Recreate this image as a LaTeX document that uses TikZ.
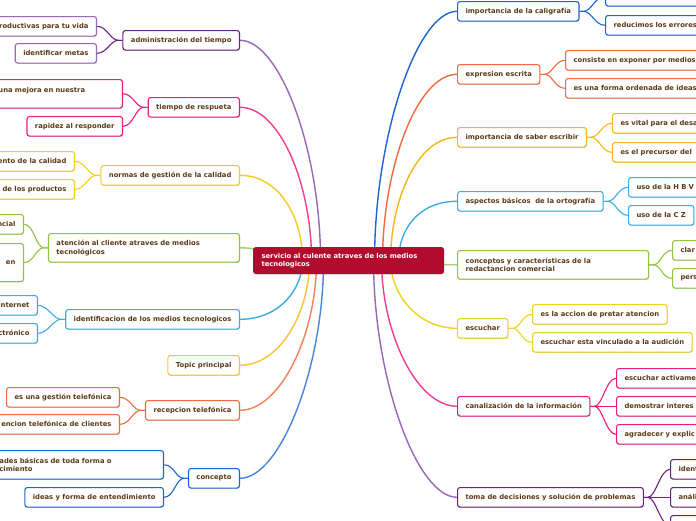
\documentclass[tikz,border=0pt]{standalone}
\usepackage{fontspec}
\newfontfamily\mapfont{DejaVu Sans}
\usetikzlibrary{backgrounds, shadows}

\definecolor{txtbrown}{HTML}{5C3A17}
\definecolor{rootred}{HTML}{B30B2D}
\definecolor{bpurple}{HTML}{6A2380}
\definecolor{bpurplel}{HTML}{9A66B6}
\definecolor{bpink}{HTML}{EC1C7F}
\definecolor{byellow}{HTML}{F2CF1F}
\definecolor{bgreen}{HTML}{8DC63F}
\definecolor{bsky}{HTML}{3AADE8}
\definecolor{bgold}{HTML}{FBC23A}
\definecolor{borange}{HTML}{F26A3B}
\definecolor{bblue}{HTML}{1C66D4}
\definecolor{bamber}{HTML}{F5B818}
\definecolor{blemon}{HTML}{EDD41A}

\tikzset{
  box/.style={draw=#1, fill=white, line width=1.1pt, rounded corners=2.5pt,
    text=txtbrown, font=\mapfont\bfseries\fontsize{6.8}{8.6}\selectfont,
    inner xsep=8pt, inner ysep=0pt, minimum height=19.5pt, align=left,
    drop shadow={shadow xshift=0.5pt, shadow yshift=-0.8pt, opacity=0.2, fill=black}},
  lbox/.style={box=#1, anchor=north east},
  rbox/.style={box=#1, anchor=north west},
  cut/.style={text width=150pt},
  twoline/.style={minimum height=28.5pt},
  trunk/.style={draw=#1, line width=1.4pt},
  twig/.style={draw=#1, line width=1.1pt},
}

\begin{document}
\begin{tikzpicture}[x=1pt, y=-1pt]
  \useasboundingbox (0,0) rectangle (696,520);

  % central topic
  \node[rbox=rootred, fill=rootred, text=white, text width=174pt, minimum height=26pt] (root) at (253,247) {servicio al culente atraves de los medios\\tecnologicos};

  % left branches
  \node[lbox=bpurple] (adm) at (240,30) {administración del tiempo};
  \node[lbox=bpink] (resp) at (240,97) {tiempo de respueta};
  \node[lbox=byellow] (norm) at (240,165) {normas de gestión de la calidad};
  \node[lbox=bgreen, twoline, text width=175pt] (aten) at (240,233) {atención al cliente atraves de medios\\tecnológicos};
  \node[lbox=bsky] (iden) at (240,309) {identificacion de los medios tecnologicos};
  \node[lbox=bgold] (topic) at (240,355) {Topic principal};
  \node[lbox=borange] (recp) at (240,400) {recepcion telefónica};
  \node[lbox=bblue] (conc) at (240,468) {concepto};

  \node[lbox=bpurplel] (admA) at (97,16) {productivas para tu vida};
  \node[lbox=bpurplel] (admB) at (97,43) {identificar metas};
  \node[lbox=bpink, twoline, text width=116pt] (respA) at (123,79) {una mejora en nuestra\\\mbox{}};
  \node[lbox=bpink] (respB) at (123,116) {rapidez al responder};
  \node[lbox=byellow] (normA) at (75,151) {ento de la calidad};
  \node[lbox=byellow] (normB) at (75,179) {de los productos};
  \node[lbox=bgreen] (atenA) at (24,214) {ncial};
  \node[lbox=bgreen, text width=40pt, align=right, minimum height=38pt] (atenB) at (24,243) {en};
  \node[lbox=bsky] (idenA) at (38,295) {Internet};
  \node[lbox=bsky] (idenB) at (38,323) {ctrónico};
  \node[lbox=borange] (recpA) at (120,387) {es una gestión telefónica};
  \node[lbox=borange] (recpB) at (120,414) {encion telefónica de clientes};
  \node[lbox=bblue, twoline, text width=156pt] (concA) at (164,450) {ades básicas de toda forma o\\cimiento};
  \node[lbox=bblue] (concB) at (164,487) {ideas y forma de entendimiento};

  % right branches
  \node[rbox=bblue] (cali) at (457,1) {importancia de la caligrafía};
  \node[rbox=borange] (expr) at (457,64) {expresion escrita};
  \node[rbox=bamber] (sabe) at (457,127) {importancia de saber escribir};
  \node[rbox=bsky] (aspe) at (457,191) {aspectos básicos\ \ de la ortografía};
  \node[rbox=bgreen, twoline, text width=175pt] (conce) at (457,250) {conceptos y características de la\\redactancion comercial};
  \node[rbox=blemon] (escu) at (457,318) {escuchar};
  \node[rbox=bpink] (cana) at (457,396) {canalización de la información};
  \node[rbox=bpurple] (toma) at (457,487) {toma de decisiones y solución de problemas};

  \node[rbox=bblue, cut] (caliA) at (605,-14) {};
  \node[rbox=bblue, cut] (caliB) at (605,15) {reducimos los errores};
  \node[rbox=borange, cut] (exprA) at (565,50) {consiste en exponer por medios};
  \node[rbox=borange, cut] (exprB) at (565,78) {es una forma ordenada de ideas};
  \node[rbox=bamber, cut] (sabeA) at (612,113) {es vital para el desa};
  \node[rbox=bamber, cut] (sabeB) at (612,142) {es el precursor del};
  \node[rbox=bsky, cut] (aspeA) at (628,177) {uso de la H B V};
  \node[rbox=bsky] (aspeB) at (628,205) {uso de la C Z};
  \node[rbox=bgreen, cut] (conceA) at (672,240) {clar};
  \node[rbox=bgreen, cut] (conceB) at (672,268) {pers};
  \node[rbox=blemon] (escuA) at (532,304) {es la accion de pretar atencion};
  \node[rbox=blemon] (escuB) at (532,332) {escuchar esta vinculado a la audición};
  \node[rbox=bpink, cut] (canaA) at (616,368) {escuchar activame};
  \node[rbox=bpink, cut] (canaB) at (616,396) {demostrar interes};
  \node[rbox=bpink, cut] (canaC) at (616,424) {agradecer y explic};
  \node[rbox=bpurple, cut] (tomaA) at (670,459) {ident};
  \node[rbox=bpurple, cut] (tomaB) at (670,487) {análi};
  \node[rbox=bpurple, cut] (tomaC) at (670,515) {};

  \begin{pgfonlayer}{background}
    \fill[white] (0,0) rectangle (696,520);
    % trunks
    \draw[trunk=bpurplel] (adm.east) .. controls +(40,0) and +(0,-110) .. ([xshift=-28pt]root.center);
    \draw[trunk=bpink!85!white] (resp.east) .. controls +(40,0) and +(0,-76) .. ([xshift=-37pt]root.center);
    \draw[trunk=byellow] (norm.east) .. controls +(40,0) and +(0,-42) .. ([xshift=-46pt]root.center);
    \draw[trunk=bgreen!80!white] (aten.east) .. controls +(30,0) and +(-20,0) .. ([xshift=-48pt]root.center);
    \draw[trunk=bsky] (iden.east) .. controls +(40,0) and +(0,28) .. ([xshift=-46pt]root.center);
    \draw[trunk=bgold] (topic.east) .. controls +(40,0) and +(0,52) .. ([xshift=-39pt]root.center);
    \draw[trunk=borange!85!white] (recp.east) .. controls +(40,0) and +(0,75) .. ([xshift=-32pt]root.center);
    \draw[trunk=bblue!80!white] (conc.east) .. controls +(40,0) and +(0,108) .. ([xshift=-25pt]root.center);
    \draw[trunk=bblue] (cali.west) .. controls +(-40,0) and +(0,-124) .. ([xshift=26pt]root.center);
    \draw[trunk=borange] (expr.west) .. controls +(-40,0) and +(0,-92) .. ([xshift=34pt]root.center);
    \draw[trunk=bamber] (sabe.west) .. controls +(-40,0) and +(0,-60) .. ([xshift=42pt]root.center);
    \draw[trunk=bsky] (aspe.west) .. controls +(-40,0) and +(0,-29) .. ([xshift=50pt]root.center);
    \draw[trunk=bgreen!80!white] (conce.west) .. controls +(-30,0) and +(20,0) .. ([xshift=52pt]root.center);
    \draw[trunk=blemon] (escu.west) .. controls +(-40,0) and +(0,33) .. ([xshift=42pt]root.center);
    \draw[trunk=bpink!85!white] (cana.west) .. controls +(-40,0) and +(0,73) .. ([xshift=33pt]root.center);
    \draw[trunk=bpurplel] (toma.west) .. controls +(-40,0) and +(0,118) .. ([xshift=25pt]root.center);
    % twigs, left
    \draw[twig=bpurple] (adm.west) -- ++(-4,0) .. controls +(-8,0) and +(10,0) .. (admA.east);
    \draw[twig=bpurple] (adm.west) -- ++(-4,0) .. controls +(-8,0) and +(10,0) .. (admB.east);
    \draw[twig=bpink] (resp.west) -- ++(-4,0) .. controls +(-8,0) and +(10,0) .. (respA.east);
    \draw[twig=bpink] (resp.west) -- ++(-4,0) .. controls +(-8,0) and +(10,0) .. (respB.east);
    \draw[twig=byellow] (norm.west) -- ++(-4,0) .. controls +(-8,0) and +(10,0) .. (normA.east);
    \draw[twig=byellow] (norm.west) -- ++(-4,0) .. controls +(-8,0) and +(10,0) .. (normB.east);
    \draw[twig=bgreen] (aten.west) -- ++(-4,0) .. controls +(-8,0) and +(10,0) .. (atenA.east);
    \draw[twig=bgreen] (aten.west) -- ++(-4,0) .. controls +(-8,0) and +(10,0) .. (atenB.east);
    \draw[twig=bsky] (iden.west) -- ++(-4,0) .. controls +(-8,0) and +(10,0) .. (idenA.east);
    \draw[twig=bsky] (iden.west) -- ++(-4,0) .. controls +(-8,0) and +(10,0) .. (idenB.east);
    \draw[twig=borange] (recp.west) -- ++(-4,0) .. controls +(-8,0) and +(10,0) .. (recpA.east);
    \draw[twig=borange] (recp.west) -- ++(-4,0) .. controls +(-8,0) and +(10,0) .. (recpB.east);
    \draw[twig=bblue] (conc.west) -- ++(-4,0) .. controls +(-8,0) and +(10,0) .. (concA.east);
    \draw[twig=bblue] (conc.west) -- ++(-4,0) .. controls +(-8,0) and +(10,0) .. (concB.east);
    % twigs, right
    \draw[twig=bblue] (cali.east) -- ++(4,0) .. controls +(8,0) and +(-10,0) .. (caliA.west);
    \draw[twig=bblue] (cali.east) -- ++(4,0) .. controls +(8,0) and +(-10,0) .. (caliB.west);
    \draw[twig=borange] (expr.east) -- ++(4,0) .. controls +(8,0) and +(-10,0) .. (exprA.west);
    \draw[twig=borange] (expr.east) -- ++(4,0) .. controls +(8,0) and +(-10,0) .. (exprB.west);
    \draw[twig=bamber] (sabe.east) -- ++(4,0) .. controls +(8,0) and +(-10,0) .. (sabeA.west);
    \draw[twig=bamber] (sabe.east) -- ++(4,0) .. controls +(8,0) and +(-10,0) .. (sabeB.west);
    \draw[twig=bsky] (aspe.east) -- ++(4,0) .. controls +(8,0) and +(-10,0) .. (aspeA.west);
    \draw[twig=bsky] (aspe.east) -- ++(4,0) .. controls +(8,0) and +(-10,0) .. (aspeB.west);
    \draw[twig=bgreen] (conce.east) -- ++(4,0) .. controls +(8,0) and +(-10,0) .. (conceA.west);
    \draw[twig=bgreen] (conce.east) -- ++(4,0) .. controls +(8,0) and +(-10,0) .. (conceB.west);
    \draw[twig=blemon] (escu.east) -- ++(4,0) .. controls +(8,0) and +(-10,0) .. (escuA.west);
    \draw[twig=blemon] (escu.east) -- ++(4,0) .. controls +(8,0) and +(-10,0) .. (escuB.west);
    \draw[twig=bpink] (cana.east) -- ++(4,0) .. controls +(8,0) and +(-10,0) .. (canaA.west);
    \draw[twig=bpink] (cana.east) -- (canaB.west);
    \draw[twig=bpink] (cana.east) -- ++(4,0) .. controls +(8,0) and +(-10,0) .. (canaC.west);
    \draw[twig=bpurple] (toma.east) -- ++(4,0) .. controls +(8,0) and +(-10,0) .. (tomaA.west);
    \draw[twig=bpurple] (toma.east) -- (tomaB.west);
    \draw[twig=bpurple] (toma.east) -- ++(4,0) .. controls +(8,0) and +(-10,0) .. (tomaC.west);
  \end{pgfonlayer}
\end{tikzpicture}
\end{document}
